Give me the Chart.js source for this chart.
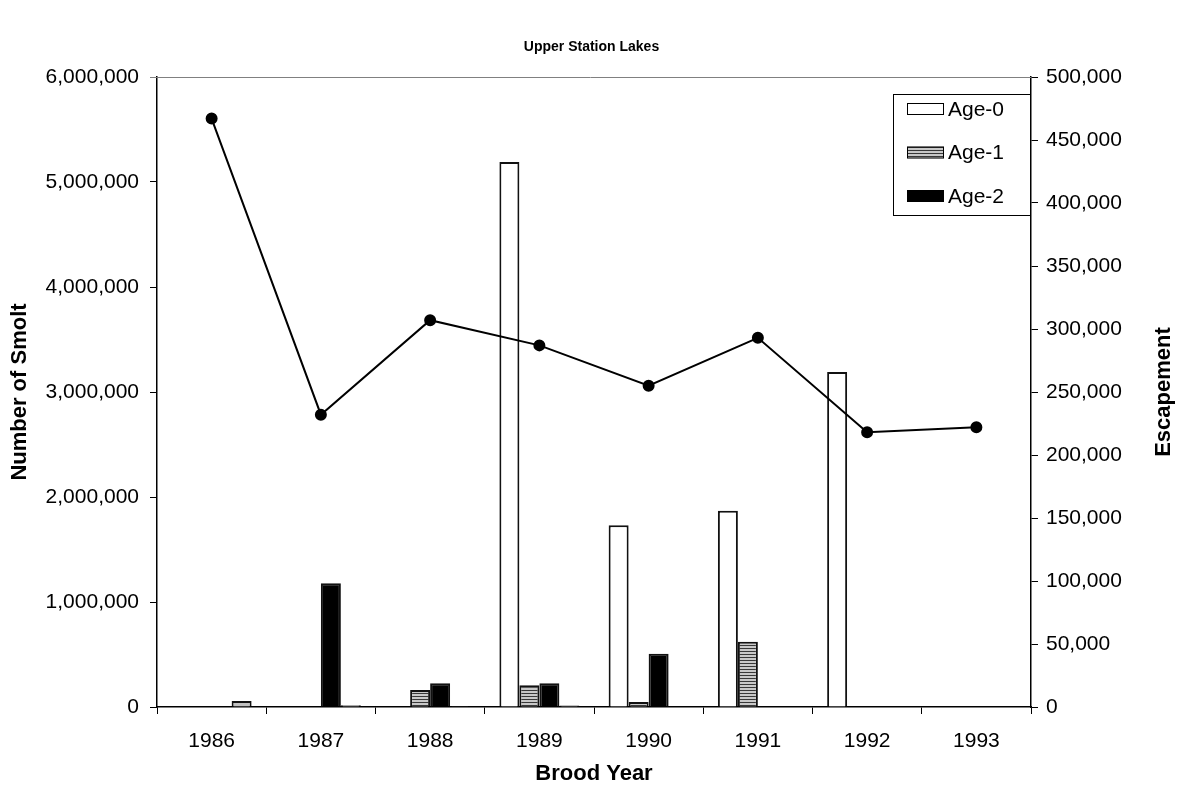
<!DOCTYPE html>
<html>
<head>
<meta charset="utf-8">
<script src="https://cdn.jsdelivr.net/npm/chart.js@4"></script>
<style>
    body { margin: 0; background: #fff; }
    #wrap { width: 1183px; height: 790px; position: relative; }
</style>
</head>
<body>
<div id="wrap"><canvas id="smoltChart"></canvas></div>
<script>
// Brood years and values
const years = ["1986", "1987", "1988", "1989", "1990", "1991", "1992", "1993"];
const age0 = [null, null, null, 5190000, 1730000, 1870000, 3190000, null];
const age1 = [null, null, 162000, 207000, 48000, 622000, null, null];
const age2 = [null, 1178000, 226000, 226000, 508000, null, null, null];
const age3 = [57000, 17000, 8000, 15000, null, null, null, null];
const escapement = [467000, 232000, 307000, 287000, 255000, 293000, 218000, 222000];

const smoltTicks = [0, 1000000, 2000000, 3000000, 4000000, 5000000, 6000000];
const escTicks = [0, 50000, 100000, 150000, 200000, 250000, 300000, 350000, 400000, 450000, 500000];

const FONT = "'Liberation Sans', Arial, sans-serif";

window.onload = function () {
    let canvas = document.getElementById("smoltChart");
    let ctx = canvas.getContext("2d");

    // horizontal stripe fill for Age-1
    let tile = document.createElement("canvas");
    tile.width = 4;
    tile.height = 3;
    let tctx = tile.getContext("2d");
    tctx.fillStyle = "#c8c8c8";
    tctx.fillRect(0, 0, 4, 3);
    tctx.fillStyle = "#383838";
    tctx.fillRect(0, 0, 4, 1);
    let stripes = ctx.createPattern(tile, "repeat");

    // legend drawn inside the plot, top right, like the original
    const boxLegend = {
        id: "boxLegend",
        afterDatasetsDraw(chart) {
            let c = chart.ctx;
            let area = chart.chartArea;
            let items = chart.data.datasets.filter(d => d.inLegend);
            let x1 = area.right - 138, y1 = 94, w = 138, h = 122;
            c.save();
            c.fillStyle = "#fff";
            c.fillRect(x1, y1, w, h);
            c.strokeStyle = "#000";
            c.lineWidth = 1;
            c.strokeRect(x1 + 0.5, y1 + 0.5, w - 1, h - 1);
            c.font = "21px " + FONT;
            c.textBaseline = "middle";
            items.forEach((d, i) => {
                let cy = y1 + 15 + i * 43.5;
                c.fillStyle = d.backgroundColor;
                c.fillRect(x1 + 14, cy - 6, 37, 12);
                c.strokeStyle = "#000";
                c.strokeRect(x1 + 14.5, cy - 5.5, 36, 11);
                c.fillStyle = "#000";
                c.fillText(d.label, x1 + 55, cy + 1);
            });
            c.restore();
        }
    };

    // thin top border of the plot area + right axis title reading upwards
    const frameExtras = {
        id: "frameExtras",
        beforeDatasetsDraw(chart) {
            let c = chart.ctx;
            let a = chart.chartArea;
            c.save();
            c.strokeStyle = "#808080";
            c.lineWidth = 1;
            c.beginPath();
            c.moveTo(a.left - 7, a.top + 0.5);
            c.lineTo(a.right, a.top + 0.5);
            c.stroke();

            c.translate(1164, (a.top + a.bottom) / 2);
            c.rotate(-Math.PI / 2);
            c.font = "bold 22px " + FONT;
            c.fillStyle = "#000";
            c.textAlign = "center";
            c.textBaseline = "middle";
            c.fillText(chart.options.plugins.rightTitle.text, 0, 0);
            c.restore();
        }
    };

    const barCommon = {
        type: "bar",
        yAxisID: "y",
        borderColor: "#111",
        borderWidth: 2,
        barPercentage: 1.0,
        categoryPercentage: 0.732,
        order: 1
    };

    new Chart(ctx, {
        data: {
            labels: years,
            datasets: [
                {
                    type: "line",
                    label: "Escapement",
                    data: escapement,
                    yAxisID: "y2",
                    borderColor: "#000",
                    borderWidth: 2,
                    pointRadius: 5,
                    pointBackgroundColor: "#000",
                    pointBorderColor: "#000",
                    tension: 0,
                    order: 0
                },
                Object.assign({ label: "Age-0", data: age0, backgroundColor: "#ffffff", inLegend: true }, barCommon),
                Object.assign({ label: "Age-1", data: age1, backgroundColor: stripes, inLegend: true }, barCommon),
                Object.assign({ label: "Age-2", data: age2, backgroundColor: "#000000", inLegend: true }, barCommon),
                Object.assign({ label: "Age-3", data: age3, backgroundColor: "#c0c0c0", inLegend: false }, barCommon)
            ]
        },
        options: {
            responsive: true,
            maintainAspectRatio: false,
            animation: false,
            layout: { padding: 0 },
            plugins: {
                legend: { display: false },
                tooltip: { enabled: false },
                rightTitle: { text: "Escapement" },
                title: {
                    display: true,
                    text: "Upper Station Lakes",
                    color: "#000",
                    font: { family: FONT, size: 14, weight: "bold" },
                    padding: { top: 39, bottom: 21.2 }
                }
            },
            scales: {
                x: {
                    grid: {
                        display: true,
                        drawOnChartArea: false,
                        offset: true,
                        color: "#000",
                        tickLength: 7
                    },
                    border: { display: true, color: "#000", width: 1.5 },
                    ticks: {
                        color: "#000",
                        font: { family: FONT, size: 21 },
                        padding: 15,
                        maxRotation: 0
                    },
                    title: {
                        display: true,
                        text: "Brood Year",
                        color: "#000",
                        font: { family: FONT, size: 22, weight: "bold" },
                        padding: { top: 0, bottom: 3 }
                    },
                    afterFit(s) { s.height = 83; }
                },
                y: {
                    position: "left",
                    min: 0,
                    max: 6000000,
                    afterBuildTicks(s) { s.ticks = smoltTicks.map(v => ({ value: v })); },
                    grid: {
                        display: true,
                        drawOnChartArea: false,
                        color: "#000",
                        tickLength: 7
                    },
                    border: { display: true, color: "#000", width: 1.5 },
                    ticks: {
                        color: "#000",
                        font: { family: FONT, size: 21 },
                        padding: 11,
                        callback: v => v.toLocaleString("en-US")
                    },
                    title: {
                        display: true,
                        text: "Number of Smolt",
                        color: "#000",
                        font: { family: FONT, size: 22, weight: "bold" },
                        padding: { top: 7, bottom: 0 }
                    },
                    afterFit(s) { s.width = 157; }
                },
                y2: {
                    position: "right",
                    min: 0,
                    max: 500000,
                    afterBuildTicks(s) { s.ticks = escTicks.map(v => ({ value: v })); },
                    grid: {
                        display: true,
                        drawOnChartArea: false,
                        color: "#000",
                        tickLength: 7
                    },
                    border: { display: true, color: "#000", width: 1.5 },
                    ticks: {
                        color: "#000",
                        font: { family: FONT, size: 21 },
                        padding: 8,
                        callback: v => v.toLocaleString("en-US")
                    },
                    afterFit(s) { s.width = 152; }
                }
            }
        },
        plugins: [frameExtras, boxLegend]
    });
};
</script>
</body>
</html>
